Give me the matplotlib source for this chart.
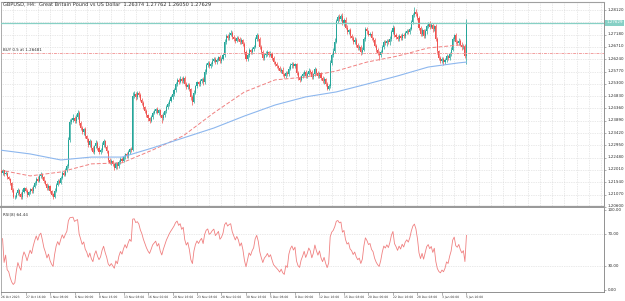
import numpy as np
import pandas as pd
import matplotlib
matplotlib.use("Agg")
import matplotlib.pyplot as plt
import matplotlib.transforms as mtransforms

plt.rcParams["text.hinting"] = "no_hinting"
plt.rcParams["text.hinting_factor"] = 1

# GBPUSD H4 closes, one per bar, oldest first (last bar = 5 Jan 16:00)
closes = [
    1.2195, 1.2188, 1.2199, 1.2186, 1.2190, 1.2172, 1.2168, 1.2150, 1.2124, 1.2096,
    1.2098, 1.2112, 1.2124, 1.2109, 1.2096, 1.2118, 1.2130, 1.2121, 1.2105, 1.2116,
    1.2127, 1.2119, 1.2136, 1.2152, 1.2168, 1.2160, 1.2178, 1.2186, 1.2174, 1.2158,
    1.2147, 1.2131, 1.2139, 1.2120, 1.2107, 1.2098, 1.2122, 1.2145, 1.2160, 1.2152,
    1.2171, 1.2190, 1.2183, 1.2199, 1.2214, 1.2315, 1.2384, 1.2392, 1.2399, 1.2388,
    1.2405, 1.2418, 1.2380, 1.2362, 1.2344, 1.2356, 1.2330, 1.2318, 1.2296, 1.2310,
    1.2285, 1.2270, 1.2292, 1.2305, 1.2284, 1.2268, 1.2276, 1.2296, 1.2310, 1.2290,
    1.2272, 1.2240, 1.2228, 1.2234, 1.2222, 1.2210, 1.2226, 1.2214, 1.2232, 1.2244,
    1.2236, 1.2250, 1.2262, 1.2254, 1.2268, 1.2280, 1.2276, 1.2482, 1.2491, 1.2478,
    1.2495, 1.2488, 1.2470, 1.2458, 1.2440, 1.2425, 1.2410, 1.2398, 1.2389, 1.2402,
    1.2418, 1.2425, 1.2432, 1.2420, 1.2428, 1.2409, 1.2398, 1.2412, 1.2425, 1.2440,
    1.2452, 1.2466, 1.2478, 1.2490, 1.2505, 1.2530, 1.2545, 1.2538, 1.2550, 1.2541,
    1.2552, 1.2530, 1.2518, 1.2526, 1.2510, 1.2478, 1.2462, 1.2496, 1.2520, 1.2535,
    1.2528, 1.2540, 1.2548, 1.2536, 1.2575, 1.2601, 1.2610, 1.2598, 1.2605, 1.2618,
    1.2626, 1.2614, 1.2622, 1.2632, 1.2618, 1.2625, 1.2640, 1.2690, 1.2712, 1.2705,
    1.2718, 1.2724, 1.2710, 1.2702, 1.2694, 1.2706, 1.2700, 1.2688, 1.2696, 1.2682,
    1.2652, 1.2625, 1.2640, 1.2658, 1.2650, 1.2662, 1.2670, 1.2700, 1.2715, 1.2702,
    1.2672, 1.2650, 1.2628, 1.2640, 1.2645, 1.2652, 1.2641, 1.2646, 1.2630, 1.2612,
    1.2605, 1.2598, 1.2590, 1.2580, 1.2584, 1.2568, 1.2560, 1.2572, 1.2566, 1.2588,
    1.2600, 1.2606, 1.2598, 1.2604, 1.2570, 1.2552, 1.2545, 1.2558, 1.2566, 1.2576,
    1.2560, 1.2568, 1.2580, 1.2574, 1.2557, 1.2566, 1.2585, 1.2572, 1.2561, 1.2570,
    1.2552, 1.2540, 1.2548, 1.2530, 1.2512, 1.2520, 1.2608, 1.2640, 1.2655, 1.2690,
    1.2770, 1.2785, 1.2778, 1.2790, 1.2760, 1.2775, 1.2745, 1.2728, 1.2735, 1.2712,
    1.2705, 1.2690, 1.2698, 1.2680, 1.2668, 1.2672, 1.2650, 1.2660, 1.2700, 1.2738,
    1.2730, 1.2718, 1.2722, 1.2705, 1.2698, 1.2676, 1.2660, 1.2648, 1.2640, 1.2652,
    1.2672, 1.2690, 1.2685, 1.2694, 1.2688, 1.2702, 1.2728, 1.2745, 1.2718, 1.2710,
    1.2700, 1.2712, 1.2705, 1.2718, 1.2712, 1.2725, 1.2732, 1.2728, 1.2740, 1.2765,
    1.2792, 1.2806, 1.2798, 1.2780, 1.2742, 1.2720, 1.2735, 1.2712, 1.2730, 1.2752,
    1.2760, 1.2748, 1.2755, 1.2738, 1.2750, 1.2700, 1.2655, 1.2630, 1.2618, 1.2625,
    1.2612, 1.2620, 1.2635, 1.2628, 1.2645, 1.2660, 1.2700, 1.2715, 1.2690, 1.2685,
    1.2695, 1.2680, 1.2670, 1.2676, 1.26374, 1.27629,
]
first_open = 1.2190

# wick lengths above / below the body, in pips
wick_up = [
    5, 4, 6, 3, 5, 4, 6, 3, 5, 7,   6, 5, 8, 4, 6, 9, 5, 4, 7, 6,
    5, 8, 6, 7, 5, 9, 6, 8, 4, 5,   6, 4, 7, 5, 3, 6, 8, 7, 5, 6,
    7, 5, 6, 8, 9, 12, 10, 9, 14, 8,   10, 12, 9, 6, 8, 7, 9, 5, 6, 8,
    7, 9, 6, 10, 5, 7, 8, 12, 9, 6,   5, 6, 7, 8, 6, 5, 7, 6, 8, 7,
    6, 8, 5, 7, 9, 6, 8, 18, 10, 9,   8, 6, 7, 5, 6, 4, 7, 6, 5, 8,
    7, 9, 6, 8, 5, 6, 7, 9, 6, 8,   7, 6, 8, 9, 10, 7, 8, 6, 9, 7,
    8, 6, 5, 7, 6, 5, 8, 9, 7, 6,   7, 8, 6, 9, 10, 8, 7, 6, 8, 9,
    7, 8, 6, 5, 9, 7, 8, 10, 9, 7,   9, 11, 6, 7, 8, 6, 5, 7, 9, 6,
    8, 7, 6, 9, 5, 7, 8, 10, 9, 6,   7, 5, 8, 6, 9, 7, 5, 8, 6, 7,
    6, 8, 5, 7, 6, 9, 5, 8, 6, 9,   8, 6, 9, 7, 5, 8, 6, 7, 9, 6,
    8, 7, 9, 6, 8, 7, 10, 6, 8, 7,   6, 8, 7, 5, 6, 9, 12, 8, 10, 14,
    9, 8, 11, 6, 10, 7, 9, 8, 6, 7,   8, 6, 9, 7, 5, 8, 6, 10, 9, 8,
    9, 7, 6, 8, 5, 7, 6, 8, 7, 9,   8, 6, 9, 7, 8, 10, 9, 11, 7, 6,
    8, 7, 9, 6, 8, 7, 9, 6, 8, 10,   9, 17, 10, 8, 9, 7, 8, 6, 9, 7,
    8, 9, 7, 8, 6, 10, 7, 6, 8, 9,   7, 8, 9, 6, 8, 10, 9, 7, 8, 6,
    9, 7, 8, 6, 7, 13.3,
]
wick_dn = [
    4, 6, 5, 7, 4, 6, 5, 8, 6, 4,   7, 5, 6, 8, 6, 5, 7, 6, 8, 5,
    6, 7, 5, 6, 8, 6, 5, 7, 6, 8,   5, 7, 6, 8, 6, 7, 5, 6, 7, 5,
    6, 5, 7, 6, 5, 4, 6, 8, 7, 9,   6, 8, 7, 9, 6, 8, 7, 9, 6, 7,
    8, 6, 9, 7, 8, 6, 7, 5, 8, 6,   7, 9, 6, 8, 7, 10, 6, 8, 5, 7,
    6, 5, 7, 6, 8, 5, 6, 4, 7, 8,   6, 8, 7, 9, 6, 8, 7, 9, 8, 6,
    7, 5, 8, 6, 9, 7, 18, 6, 7, 5,   6, 7, 5, 6, 8, 5, 7, 9, 6, 8,
    7, 9, 6, 8, 7, 9, 13, 6, 5, 7,   8, 6, 7, 9, 5, 6, 8, 7, 6, 8,
    6, 8, 7, 6, 9, 7, 5, 6, 7, 8,   7, 6, 8, 7, 9, 6, 8, 7, 6, 9,
    10, 8, 7, 6, 8, 7, 6, 5, 7, 8,   9, 8, 7, 6, 8, 7, 9, 6, 8, 7,
    8, 7, 9, 6, 8, 10, 7, 6, 8, 7,   6, 8, 7, 9, 8, 7, 9, 6, 7, 8,
    7, 9, 6, 8, 10, 7, 6, 8, 9, 7,   8, 7, 9, 8, 7, 6, 7, 8, 6, 7,
    6, 8, 7, 9, 6, 8, 7, 9, 8, 7,   8, 9, 7, 8, 10, 7, 9, 8, 6, 7,
    8, 6, 7, 9, 8, 7, 9, 8, 19, 7,   6, 8, 7, 9, 6, 8, 7, 6, 9, 7,
    8, 7, 9, 6, 8, 7, 6, 8, 7, 6,   7, 8, 9, 7, 8, 9, 7, 8, 6, 9,
    7, 8, 6, 9, 7, 8, 10, 9, 8, 7,   9, 7, 8, 6, 8, 7, 6, 8, 9, 7,
    8, 7, 9, 8, 10, 32.4,
]

# moving averages read every 20 bars
ma_bars = [0, 20, 40, 60, 80, 100, 120, 140, 160, 180, 200, 220, 240, 260, 280, 300, 305]
ma_red = [1.2201, 1.2178, 1.2193, 1.2224, 1.2228, 1.2277, 1.2331, 1.2419, 1.2499,
          1.2545, 1.2556, 1.2579, 1.2613, 1.2636, 1.2667, 1.2678, 1.2671]
ma_blue = [1.2277, 1.2262, 1.2239, 1.2250, 1.2250, 1.2285, 1.2323, 1.2361, 1.2407,
           1.2449, 1.2480, 1.2499, 1.2529, 1.2560, 1.2594, 1.2610, 1.2613]

buy_price = 1.26481
rsi_period = 8

price_ticks = [1.28120, 1.27650, 1.27180, 1.26710, 1.26240, 1.25770, 1.25300, 1.24830,
               1.24360, 1.23890, 1.23420, 1.22950, 1.22480, 1.22010, 1.21540, 1.21070, 1.20600]
date_ticks = [1, 17, 33, 49, 65, 81, 97, 113, 129, 145, 161, 177, 193, 209, 225, 241, 257, 273, 289, 305]
date_labels = ["26 Oct 2023", "27 Oct 16:00", "1 Nov 08:00", "6 Nov 00:00", "8 Nov 16:00",
               "13 Nov 08:00", "16 Nov 00:00", "20 Nov 16:00", "23 Nov 08:00", "28 Nov 00:00",
               "30 Nov 16:00", "5 Dec 08:00", "8 Dec 00:00", "12 Dec 16:00", "15 Dec 08:00",
               "20 Dec 00:00", "22 Dec 16:00", "28 Dec 08:00", "3 Jan 00:00", "5 Jan 16:00"]
rsi_ticks = [0, 30, 70, 100]

title = "GBPUSD, H4:  Great Britain Pound vs US Dollar  1.26374 1.27762 1.26050 1.27629"

UP, DOWN = "#26a69a", "#ef5350"
GRID = "#d4d4d4"
SPINE = "#a0a0a0"
TEAL = "#86d0c5"

c = np.array(closes)
o = np.r_[first_open, c[:-1]]
hi = np.maximum(o, c) + np.array(wick_up) / 1e4
lo = np.minimum(o, c) - np.array(wick_dn) / 1e4
idx = np.arange(len(c))
cols = np.where(c >= o, UP, DOWN)

# RSI (Wilder smoothing)
d = pd.Series(c).diff()
gain = d.clip(lower=0).ewm(alpha=1 / rsi_period, adjust=True).mean()
loss = (-d.clip(upper=0)).ewm(alpha=1 / rsi_period, adjust=True).mean()
rsi = 100 - 100 / (1 + gain / loss)

W, H = 625, 301
fig = plt.figure(figsize=(W / 100, H / 100), dpi=100)
ax = fig.add_axes([1 / W, (H - 207) / H, 603 / W, 205 / H])
rx = fig.add_axes([1 / W, (H - 292) / H, 603 / W, 84 / H], sharex=ax)

px_bar = 1.531
ax.set_xlim(1.5 / px_bar, 604.5 / px_bar)
ppx = 0.0047 / 12.3
ax.set_ylim(1.28120 - 197 * ppx, 1.28120 + 8 * ppx)
rx.set_ylim(-2.5, 102.5)

# grid
for g in np.arange(1, 395, 8):
    ax.axvline(g, color=GRID, lw=0.5, ls=(0, (1, 1.5)), zorder=0)
for p in price_ticks:
    ax.axhline(p, color=GRID, lw=0.5, ls=(0, (1, 1.5)), zorder=0)
for r in (30, 70):
    rx.axhline(r, color=GRID, lw=0.5, ls=(0, (1, 1.5)), zorder=0)

# candles
ax.vlines(idx, lo, hi, colors=cols, lw=0.5, zorder=2)
ax.bar(idx, np.abs(c - o), bottom=np.minimum(o, c), width=0.7, color=cols, linewidth=0, zorder=3)

ax.plot(ma_bars, ma_red, color="#f08080", lw=0.7, ls=(0, (4, 2)), zorder=4)
ax.plot(ma_bars, ma_blue, color="#8db7ee", lw=0.8, zorder=4)

# current price and order line
ax.axhline(c[-1], color=TEAL, lw=0.9, zorder=5)
trans = mtransforms.blended_transform_factory(ax.transAxes, ax.transData)
ax.text(1.004, c[-1], f"{c[-1]:.5f}", transform=trans, ha="left", va="center",
        fontsize=2.8, color="white", clip_on=False, zorder=10,
        bbox=dict(boxstyle="square,pad=0.35", fc=TEAL, ec="none"))
ax.axhline(buy_price, color="#f2a0a0", lw=0.7, ls=(0, (3, 1, 1, 1)), zorder=5)
ax.text(0.004, buy_price + 0.0002, f"BUY 0.5 at {buy_price:.5f}", transform=trans,
        fontsize=2.8, color="#333333", va="bottom", ha="left")

fig.text(3 / W, 1 - 5 / H, title, fontsize=3.6, color="#333333", va="center", ha="left")

# RSI panel
rx.plot(idx[2:], rsi[2:], color="#f08080", lw=0.6)
rx.text(0.004, 0.95, f"RSI({rsi_period}) 64.44", transform=rx.transAxes,
        fontsize=2.8, color="#333333", va="top", ha="left")

for a in (ax, rx):
    a.set_facecolor("white")
    a.yaxis.tick_right()
    a.tick_params(axis="y", length=1.5, width=0.4, color="#777777", pad=1,
                  labelsize=2.8, labelcolor="#333333")
    a.spines["left"].set_color(SPINE)
    a.spines["left"].set_linewidth(0.6)
    a.spines["right"].set_color("#808080")
    a.spines["right"].set_linewidth(0.6)

# the tick hidden behind the current-price box keeps its grid line only
hidden = 1.27650
ax.set_yticks(price_ticks)
ax.set_yticklabels(["" if p == hidden else f"{p:.5f}" for p in price_ticks])
ax.spines["top"].set_color(SPINE)
ax.spines["top"].set_linewidth(0.8)
ax.spines["bottom"].set_color("#9a9a9a")
ax.spines["bottom"].set_linewidth(1.6)
ax.tick_params(axis="x", bottom=False, labelbottom=False)

rx.set_yticks(rsi_ticks)
rx.set_yticklabels([f"{r:.2f}" for r in rsi_ticks])
rx.spines["top"].set_visible(False)
rx.spines["bottom"].set_color("#808080")
rx.spines["bottom"].set_linewidth(0.6)
rx.set_xticks(date_ticks)
rx.set_xticklabels(date_labels, ha="left")
rx.tick_params(axis="x", length=2, width=0.4, color="#777777", pad=0.5,
               labelsize=2.45, labelcolor="#333333")

fig.savefig("out.png", dpi=100, facecolor="white")
